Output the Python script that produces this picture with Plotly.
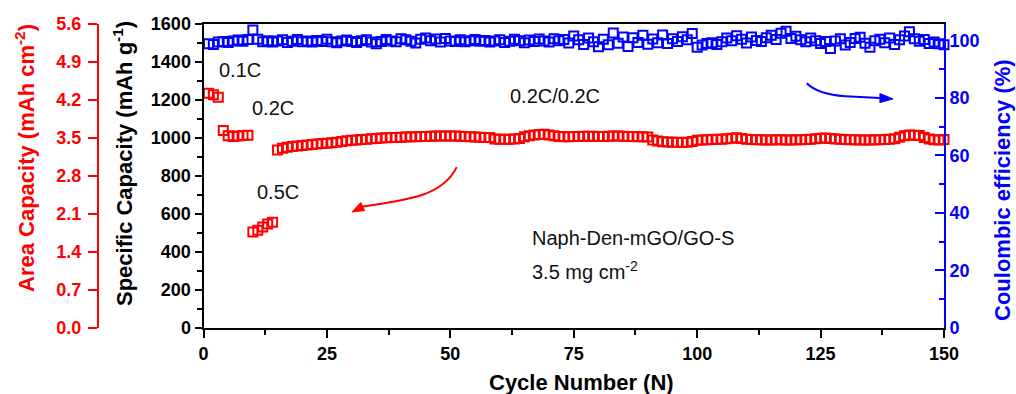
import plotly.graph_objects as go

# ---- data -------------------------------------------------------------
cycles = list(range(1, 151))

# discharge specific capacity (mAh g-1)
capacity = [
    1235, 1228, 1215,
    1040, 1012, 1008, 1010, 1013, 1015,
    505, 515, 532, 548, 556,
    937, 946, 951, 955, 958, 961, 963, 966, 968, 971, 973, 975, 978, 981, 985, 988,
    990, 992, 994, 996, 998, 1000, 1001, 1002, 1003, 1004,
    1005, 1006, 1007, 1008, 1008, 1009, 1010, 1010, 1011, 1011,
    1010, 1009, 1008, 1006, 1005, 1004, 1003, 1002, 995, 994,
    993, 994, 995, 998, 1006, 1012, 1016, 1018, 1020, 1016,
    1012, 1008, 1006, 1007, 1008, 1008, 1009, 1009, 1009, 1008,
    1008, 1009, 1010, 1010, 1009, 1008, 1008, 1007, 1006, 1005,
    990, 984, 980, 979, 978, 977, 976, 978, 982, 988,
    990, 991, 992, 993, 994, 996, 999, 1001, 998, 994,
    992, 991, 991, 990, 990, 991, 991, 990, 990, 991,
    991, 992, 993, 996, 999, 1000, 998, 995, 993, 992,
    991, 991, 990, 990, 990, 991, 991, 992, 993, 996,
    1004, 1012, 1016, 1015, 1013, 1003, 995, 991, 990, 992,
]

# coulombic efficiency (%)
efficiency = [
    98.8, 98.6, 99.4, 99.6, 99.3, 99.8, 100.1, 99.7, 100.3, 103.6,
    100.4, 99.5, 99.9, 99.4, 99.8, 100.2, 99.3, 99.7, 100.3, 99.5,
    99.8, 99.4, 100.0, 99.6, 100.4, 99.5, 99.2, 99.8, 100.1, 99.6,
    99.3, 99.9, 100.2, 99.4, 98.8, 99.6, 100.3, 99.8, 99.5, 100.6,
    100.2, 99.7, 99.1, 100.4, 100.8, 99.9, 100.5, 99.4, 100.7, 99.8,
    99.6, 100.2, 99.5, 99.9, 100.3, 99.7, 100.0, 99.4, 99.8, 100.2,
    99.3, 99.7, 100.4, 99.9, 99.2, 100.1, 99.6, 100.5, 99.8, 99.4,
    100.6, 99.9, 100.3, 99.1, 101.5, 100.2, 98.6, 100.8, 99.5, 97.8,
    100.4, 98.5, 102.6, 99.0, 101.2, 97.9, 100.9, 99.3, 101.8, 98.7,
    100.5, 99.2, 101.9, 98.9, 100.6, 99.6, 101.3, 100.2, 102.4, 97.6,
    98.4, 98.9, 99.2, 98.6, 99.5, 100.8, 99.9, 101.6, 100.4, 99.1,
    101.2, 100.0, 99.6, 100.9, 101.8, 100.3, 102.5, 103.2, 100.7, 101.4,
    100.2, 99.5, 100.8, 99.9, 98.9, 99.6, 97.2, 99.8, 100.6, 98.4,
    99.3, 100.7, 101.1, 99.0, 97.6, 99.9, 100.4, 99.2, 100.8, 98.6,
    100.2, 101.5, 103.0, 100.6, 99.7, 100.3, 98.9, 99.4, 98.8, 98.5,
]

# axis settings
x_ticks = [0, 25, 50, 75, 100, 125, 150]
spec_ticks = [0, 200, 400, 600, 800, 1000, 1200, 1400, 1600]
area_ticks = [0.0, 0.7, 1.4, 2.1, 2.8, 3.5, 4.2, 4.9, 5.6]
ce_ticks = [0, 20, 40, 60, 80, 100]

W, H = 1016, 394
RED, BLUE, BLACK = "#ff0000", "#0000ff", "#000000"
FONT = "Liberation Sans, Arial, sans-serif"


def px(x):
    return x / W


def py(y):
    return 1 - y / H


fig = go.Figure()

fig.add_trace(go.Scatter(
    x=cycles, y=capacity, mode="markers", yaxis="y", cliponaxis=False,
    marker=dict(symbol="square-open", size=9, color=RED, line=dict(width=2, color=RED)),
    showlegend=False,
))
fig.add_trace(go.Scatter(
    x=cycles, y=efficiency, mode="markers", yaxis="y2", cliponaxis=False,
    marker=dict(symbol="square-open", size=9, color=BLUE, line=dict(width=2, color=BLUE)),
    showlegend=False,
))

tick_font = dict(family=FONT, size=18, weight="bold")

fig.update_layout(
    width=W, height=H,
    margin=dict(l=0, r=0, t=0, b=0, autoexpand=False),
    paper_bgcolor="white", plot_bgcolor="white",
    xaxis=dict(
        domain=[px(203.5), px(944)], range=[0, 150],
        tickvals=x_ticks, ticks="outside", ticklen=8, tickwidth=2, tickcolor=BLACK,
        minor=dict(dtick=12.5, tick0=0, ticks="outside", ticklen=5, tickwidth=2, tickcolor=BLACK),
        showline=True, linecolor=BLACK, linewidth=2, mirror=True,
        showgrid=False, zeroline=False,
        tickfont=dict(tick_font, color=BLACK),
    ),
    yaxis=dict(
        domain=[py(328), py(24)], range=[0, 1600],
        tickvals=spec_ticks, ticks="outside", ticklen=7, tickwidth=2, tickcolor=BLACK,
        minor=dict(dtick=100, tick0=0, ticks="outside", ticklen=5, tickwidth=2, tickcolor=BLACK),
        showline=True, linecolor=BLACK, linewidth=2,
        showgrid=False, zeroline=False,
        tickfont=dict(tick_font, color=BLACK),
    ),
    yaxis2=dict(
        overlaying="y", side="right", anchor="x", range=[0, 105.7],
        tickvals=ce_ticks, ticks="inside", ticklen=9, tickwidth=2, tickcolor=BLUE,
        minor=dict(dtick=10, tick0=0, ticks="inside", ticklen=5, tickwidth=2, tickcolor=BLUE),
        showline=True, linecolor=BLUE, linewidth=2,
        showgrid=False, zeroline=False,
        tickfont=dict(tick_font, color=BLUE),
    ),
    yaxis3=dict(
        overlaying="y", side="left", anchor="free", position=px(98), range=[0, 5.6],
        tickvals=area_ticks, tickformat=".1f", ticks="outside", ticklen=9, tickwidth=2,
        tickcolor=RED, showline=True, linecolor=RED, linewidth=2,
        showgrid=False, zeroline=False, ticklabelstandoff=3,
        tickfont=dict(tick_font, color=RED),
    ),
)

# keep the area-capacity axis visible (it carries no trace)
fig.add_trace(go.Scatter(x=[None], y=[None], yaxis="y3", showlegend=False, hoverinfo="skip"))

title_font = dict(family=FONT, size=22, weight="bold")
label_font = dict(family=FONT, size=20, color="#111111")

annotations = [
    # axis titles
    dict(x=px(25), y=py(158), text="Area Capacity (mAh cm<sup>-2</sup>)", textangle=-90,
         font=dict(title_font, color=RED)),
    dict(x=px(123), y=py(164), text="Specific Capacity (mAh g<sup>-1</sup>)", textangle=-90,
         font=dict(title_font, color=BLACK)),
    dict(x=px(1002), y=py(190), text="Coulombic efficiency (%)", textangle=-90,
         font=dict(title_font, color=BLUE)),
    dict(x=px(581), y=py(382), text="Cycle Number (N)", font=dict(title_font, color=BLACK)),
]
for a in annotations:
    a.update(xref="paper", yref="paper", showarrow=False, xanchor="center", yanchor="middle")

# rate labels and sample description
labels = [
    (2.8, 1358, "0.1C"),
    (9.4, 1158, "0.2C"),
    (10.4, 716, "0.5C"),
    (61.7, 1221, "0.2C/0.2C"),
    (66.1, 474, "Naph-Den-mGO/GO-S"),
    (66.1, 305, "3.5 mg cm<sup>-2</sup>"),
]
for x, y, t in labels:
    annotations.append(dict(x=x, y=y, xref="x", yref="y", text=t, showarrow=False,
                            xanchor="left", yanchor="middle", font=label_font))

fig.update_layout(annotations=annotations)

# curved arrows pointing at the matching axis: shaft + filled head
fig.add_shape(type="path", xref="x", yref="y",
              path="M 51.3,847 C 48.5,700 42.0,675 32.25,639",
              line=dict(color=RED, width=2))
fig.add_shape(type="path", xref="x", yref="y",
              path="M 30.08,610.5 L 32.65,617.9 L 31.84,660 Z",
              line=dict(color=RED, width=1), fillcolor=RED)
fig.add_shape(type="path", xref="x", yref="y2",
              path="M 122.2,85.1 Q 124.5,81.2 130.0,80.6 L 137.0,80.0",
              line=dict(color=BLUE, width=2))
fig.add_shape(type="path", xref="x", yref="y2",
              path="M 139.66,79.65 L 137.02,81.5 L 137.02,78.37 Z",
              line=dict(color=BLUE, width=1), fillcolor=BLUE)

fig.write_html("out.html")
